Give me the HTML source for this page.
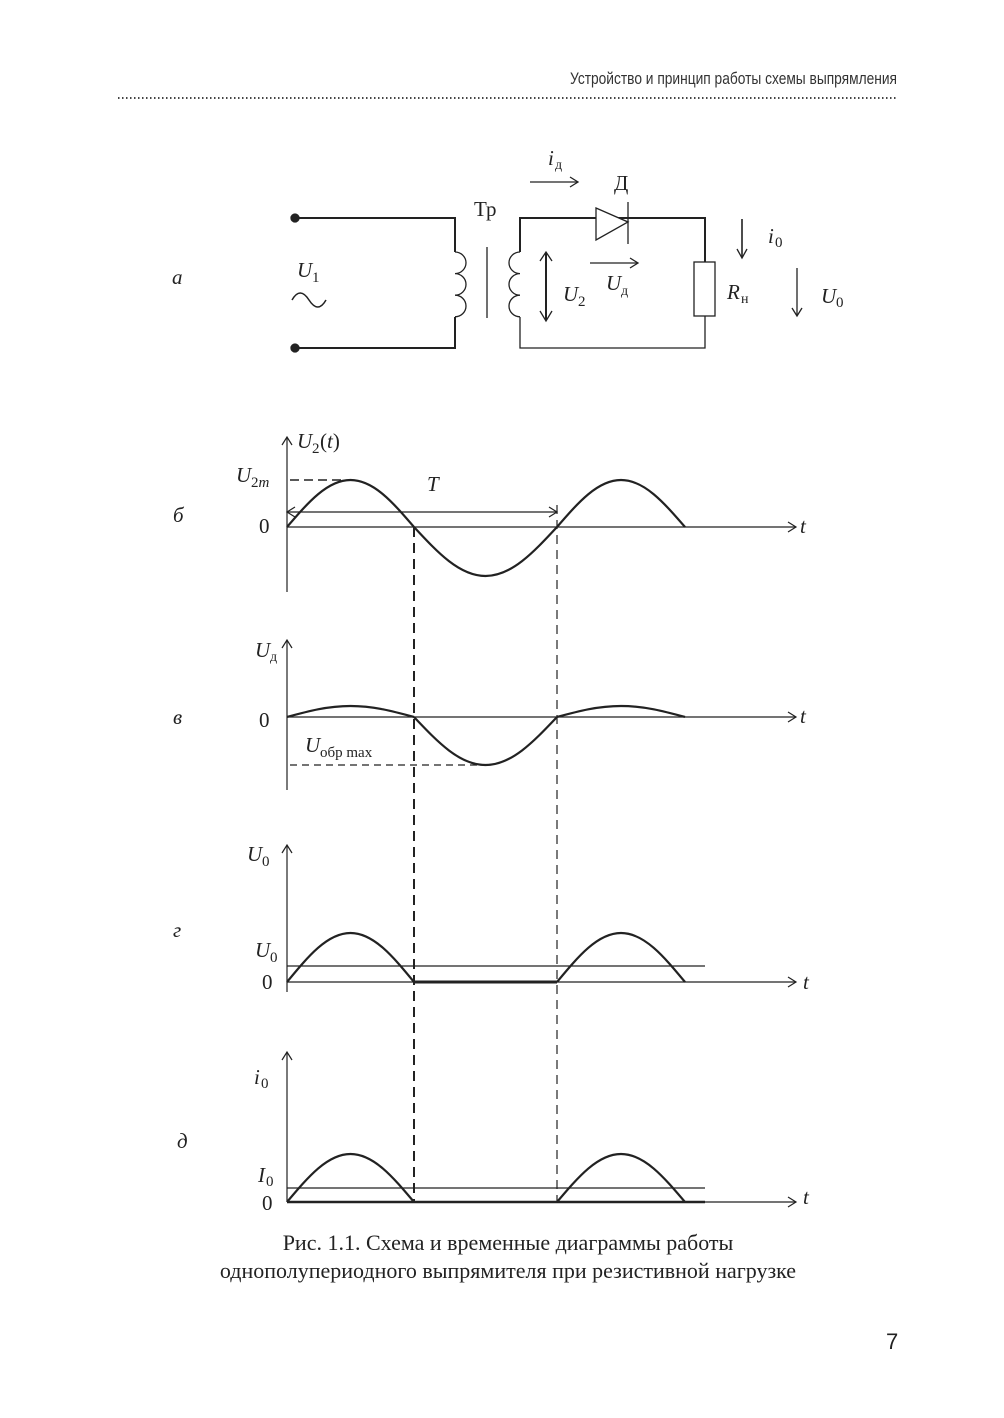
<!DOCTYPE html>
<html><head><meta charset="utf-8"><style>
html,body{margin:0;padding:0;background:#fff}
svg{display:block}
.s{font-family:"Liberation Serif",serif;fill:#222}
.i{font-style:italic}
</style></head><body>
<svg id="g" width="1004" height="1418" viewBox="0 0 1004 1418" xmlns="http://www.w3.org/2000/svg">
<text x="897" y="84" text-anchor="end" font-family="Liberation Sans Narrow, Liberation Sans, sans-serif" font-size="17" fill="#333" textLength="327" lengthAdjust="spacingAndGlyphs">Устройство и принцип работы схемы выпрямления</text>
<line x1="118" y1="98" x2="897" y2="98" stroke="#444" stroke-width="2" stroke-dasharray="1.5 2.5"/>
<g stroke="#222" fill="none" stroke-width="1.3">
<circle cx="295" cy="218" r="4" fill="#222"/><circle cx="295" cy="348" r="4" fill="#222"/>
<polyline points="295,218 455,218 455,252" stroke-width="2"/>
<polyline points="295,348 455,348 455,317" stroke-width="2"/>
<path d="M455,252 a11,10.8 0 0 1 0,21.6 a11,10.8 0 0 1 0,21.6 a11,10.8 0 0 1 0,21.6"/>
<line x1="487" y1="247" x2="487" y2="318"/>
<path d="M520,252 a11,10.8 0 0 0 0,21.6 a11,10.8 0 0 0 0,21.6 a11,10.8 0 0 0 0,21.6"/>
<polyline points="520,252 520,218 705,218 705,262" stroke-width="2"/>
<polyline points="520,317 520,348 705,348 705,316"/>
<polygon points="596,208 628,222 596,240" fill="#fff"/>
<line x1="628" y1="202" x2="628" y2="244"/>
<rect x="694" y="262" width="21" height="54" fill="#fff"/>
<line x1="546" y1="253" x2="546" y2="320" stroke-width="2"/>
<polyline points="540,261 546,252 552,261"/><polyline points="540,311 546,321 552,311"/>
<line x1="530" y1="182" x2="577" y2="182"/><polyline points="570,177 578,182 570,187"/>
<line x1="590" y1="263" x2="637" y2="263"/><polyline points="630,258 638,263 630,268"/>
<line x1="742" y1="219" x2="742" y2="257" stroke-width="1.6"/><polyline points="737,249 742,258 747,249"/>
<line x1="797" y1="268" x2="797" y2="315"/><polyline points="792,308 797,316 802,308"/>
<path d="M292,300 q8,-14 17,0 t17,0" stroke-width="1.5"/>
</g>
<g class="s" font-size="21">
<text x="172" y="284" class="i">а</text>
<text x="297" y="277" class="i">U</text><text x="312" y="282" font-size="15">1</text>
<text x="474" y="216">Тр</text>
<text x="548" y="165" class="i">i</text><text x="555" y="169" font-size="14">д</text>
<text x="614" y="190">Д</text>
<text x="563" y="301" class="i">U</text><text x="578" y="306" font-size="15">2</text>
<text x="606" y="290" class="i">U</text><text x="621" y="295" font-size="14">д</text>
<text x="727" y="299" class="i">R</text><text x="741" y="303" font-size="14">н</text>
<text x="768" y="243" class="i">i</text><text x="775" y="247" font-size="15">0</text>
<text x="821" y="303" class="i">U</text><text x="836" y="307" font-size="15">0</text>
</g>
<g stroke="#222" fill="none" stroke-width="1.2">
<line x1="287" y1="437" x2="287" y2="592"/><polyline points="282,445 287,437 292,445"/>
<line x1="287" y1="527" x2="796" y2="527"/><polyline points="788,522 796,527 788,532"/>
<line x1="287" y1="640" x2="287" y2="790"/><polyline points="282,648 287,640 292,648"/>
<line x1="287" y1="717" x2="796" y2="717"/><polyline points="788,712 796,717 788,722"/>
<line x1="287" y1="845" x2="287" y2="992"/><polyline points="282,853 287,845 292,853"/>
<line x1="287" y1="982" x2="796" y2="982"/><polyline points="788,977 796,982 788,987"/>
<line x1="287" y1="1052" x2="287" y2="1202"/><polyline points="282,1060 287,1052 292,1060"/>
<line x1="287" y1="1202" x2="796" y2="1202"/><polyline points="788,1197 796,1202 788,1207"/>
<line x1="287" y1="966" x2="705" y2="966"/>
<line x1="287" y1="1188" x2="705" y2="1188"/>
<line x1="287" y1="512" x2="557" y2="512"/><polyline points="295,507 287,512 295,517"/><polyline points="549,507 557,512 549,517"/>
<line x1="290" y1="480" x2="345" y2="480" stroke-dasharray="9 5" stroke-width="1.6"/>
<line x1="290" y1="765" x2="485" y2="765" stroke-dasharray="7 5"/>
<line x1="414" y1="527" x2="414" y2="1202" stroke-dasharray="10 6" stroke-width="2"/>
<line x1="557" y1="505" x2="557" y2="1202" stroke-dasharray="9 6"/>
<line x1="414" y1="982" x2="557" y2="982" stroke-width="3"/>
<line x1="287" y1="1202" x2="705" y2="1202" stroke-width="2.5"/>
</g>
<g id="waves" stroke="#222" fill="none" stroke-width="2.2"></g>
<g class="s" font-size="21">
<text x="297" y="448" class="i">U</text><text x="312" y="453" font-size="15">2</text><text x="320" y="448">(<tspan class="i">t</tspan>)</text>
<text x="236" y="482" class="i">U</text><text x="251" y="487" font-size="15">2<tspan class="i">m</tspan></text>
<text x="427" y="491" class="i">T</text>
<text x="173" y="522" class="i">б</text>
<text x="259" y="533">0</text>
<text x="800" y="533" class="i">t</text>
<text x="255" y="657" class="i">U</text><text x="270" y="661" font-size="14">д</text>
<text x="173" y="724" class="i">в</text>
<text x="259" y="727">0</text>
<text x="800" y="723" class="i">t</text>
<text x="305" y="752" class="i">U</text><text x="320" y="757" font-size="15">обр max</text>
<text x="247" y="861" class="i">U</text><text x="262" y="866" font-size="15">0</text>
<text x="173" y="937" class="i">г</text>
<text x="255" y="957" class="i">U</text><text x="270" y="962" font-size="15">0</text>
<text x="262" y="989">0</text>
<text x="803" y="989" class="i">t</text>
<text x="254" y="1084" class="i">i</text><text x="261" y="1088" font-size="15">0</text>
<text x="177" y="1148" class="i">д</text>
<text x="258" y="1182" class="i">I</text><text x="266" y="1186" font-size="15">0</text>
<text x="262" y="1210">0</text>
<text x="803" y="1204" class="i">t</text>
</g>
<g class="s" font-size="22" text-anchor="middle">
<text x="508" y="1250">Рис. 1.1. Схема и временные диаграммы работы</text>
<text x="508" y="1278">однополупериодного выпрямителя при резистивной нагрузке</text>
</g>
<text x="886" y="1349" font-family="Liberation Sans, sans-serif" font-size="22" fill="#222">7</text>
</svg>
<script>
function hw(x0,x1,y0,A){var q=(x1-x0)/2;return "M"+x0+","+y0+" C"+(x0+0.3343*q)+","+(y0-0.5251*A)+" "+(x0+0.6366*q)+","+(y0-A)+" "+(x0+q)+","+(y0-A)+" C"+(x0+q+0.3634*q)+","+(y0-A)+" "+(x0+q+0.6657*q)+","+(y0-0.5251*A)+" "+x1+","+y0;}
var d=[hw(287,414,527,47),hw(414,557,527,-49),hw(557,685,527,47),
hw(287,414,717,11),hw(414,557,717,-48),hw(557,685,717,11),
hw(287,414,982,49),hw(557,685,982,49),
hw(287,414,1202,48),hw(557,685,1202,48)];
var g=document.getElementById("waves"),h="";
d.forEach(function(p){h+='<path d="'+p+'"/>';});
g.innerHTML=h;
</script>
</body></html>
